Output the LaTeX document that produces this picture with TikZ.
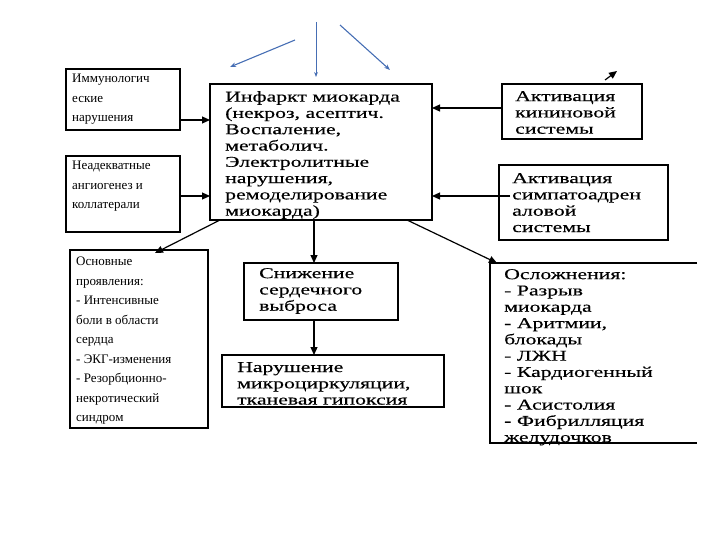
\documentclass[tikz,border=0pt]{standalone}
\usepackage{fontspec}
\setmainfont{Liberation Serif}
\newfontfamily\widefont[FakeStretch=1.45,FakeBold=0.4]{Liberation Serif}
\usetikzlibrary{arrows.meta}
\definecolor{steel}{RGB}{70,110,180}
\begin{document}
\begin{tikzpicture}[x=1pt,y=-1pt,
 box/.style={draw,line width=1.3pt},
 sm/.style={font=\fontsize{13}{19.5}\selectfont,align=left,anchor=north west,inner sep=0pt},
 bg/.style={font=\widefont\fontsize{15}{16.3}\selectfont,align=left,anchor=north west,inner sep=0pt},
 ar/.style={-{Triangle[length=8pt,width=7pt]},line width=1.2pt},
 bl/.style={-{Stealth[length=6pt]},color=steel,line width=1.1pt}]
\useasboundingbox (0,0) rectangle (720,540);
\draw[box] (66,69) rectangle (180,130);
\node[sm] (immt) at (72,74) {Иммунологич\\еские\\нарушения};
\draw[box] (66,156) rectangle (180,232);
\node[sm] (neat) at (72,161) {Неадекватные\\ангиогенез и\\коллатерали};
\draw[box] (70,250) rectangle (208,428);
\node[sm] (osnt) at (76,257) {Основные\\проявления:\\- Интенсивные\\боли в области\\сердца\\- ЭКГ-изменения\\- Резорбционно-\\некротический\\синдром};
\draw[box] (210,84) rectangle (432,220);
\node[bg] (inft) at (225,91) {Инфаркт миокарда\\(некроз, асептич.\\Воспаление,\\метаболич.\\Электролитные\\нарушения,\\ремоделирование\\миокарда)};
\draw[box] (502,84) rectangle (642,139);
\node[bg] (kint) at (515,91) {Активация\\кининовой\\системы};
\draw[box] (499,165) rectangle (668,240);
\node[bg] (simt) at (512,173) {Активация\\симпатоадрен\\аловой\\системы};
\draw[box] (244,263) rectangle (398,320);
\node[bg] (snit) at (259,268) {Снижение\\сердечного\\выброса};
\draw[box] (222,355) rectangle (444,407);
\node[bg] (nart) at (237,362) {Нарушение\\микроциркуляции,\\тканевая гипоксия};
\draw[box] (697,263) -- (490,263) -- (490,443) -- (697,443);
\node[bg] (oslt) at (504,269) {Осложнения:\\- Разрыв\\миокарда\\- Аритмии,\\блокады\\- ЛЖН\\- Кардиогенный\\шок\\- Асистолия\\- Фибрилляция\\желудочков};
\draw[ar] (180,120) -- (210,120);
\draw[ar] (180,196) -- (210,196);
\draw[ar] (502,108) -- (432,108);
\draw[ar] (510,196) -- (432,196);
\draw[ar] (220,220) -- (155,253);
\draw[ar] (314,220) -- (314,263);
\draw[ar] (407,220) -- (497,263);
\draw[ar] (314,320) -- (314,355);
\draw[bl] (295,40) -- (230,67);
\draw[-{Stealth[length=5pt]},color=steel,line width=0.6pt] (316,22) -- (316,77);
\draw[bl] (340,25) -- (390,70);
\draw[ar] (605,80) -- (617,71);
\end{tikzpicture}
\end{document}
